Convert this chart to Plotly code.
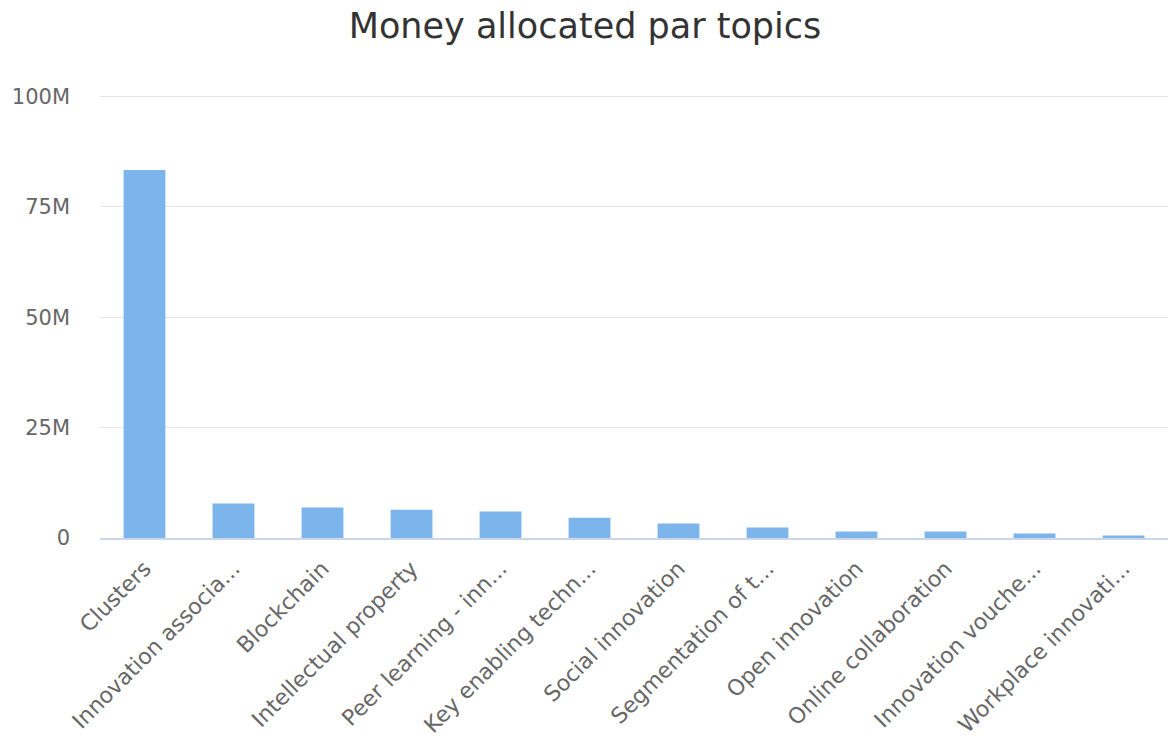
import plotly.graph_objects as go

# Funding per topic (EUR)
topics = [
    "Clusters",
    "Innovation associa...",
    "Blockchain",
    "Intellectual property",
    "Peer learning - inn...",
    "Key enabling techn...",
    "Social innovation",
    "Segmentation of t...",
    "Open innovation",
    "Online collaboration",
    "Innovation vouche...",
    "Workplace innovati...",
]
amounts = [83.3e6, 7.8e6, 6.9e6, 6.4e6, 6.0e6, 4.6e6, 3.3e6, 2.4e6, 1.45e6, 1.45e6, 1.0e6, 0.55e6]

y_ticks = [0, 25e6, 50e6, 75e6, 100e6]
y_tick_text = ["0", "25M", "50M", "75M", "100M"]

FONT = "DejaVu Sans"

fig = go.Figure(
    go.Bar(
        x=topics,
        y=amounts,
        marker=dict(color="#7cb5ec", line=dict(width=0)),
        hovertemplate="%{x}<br>%{y:,.0f}<extra></extra>",
    )
)

fig.update_layout(
    width=1170,
    height=745,
    margin=dict(l=100, r=2, t=95, b=207, autoexpand=False),
    paper_bgcolor="white",
    plot_bgcolor="white",
    bargap=0.53,
    showlegend=False,
    font=dict(family=FONT, color="#666666"),
    title=dict(
        text="Money allocated par topics",
        x=0.5,
        xanchor="center",
        y=0.965,
        yanchor="middle",
        font=dict(family=FONT, size=35, color="#333333"),
    ),
)

fig.update_xaxes(
    tickangle=-45,
    tickfont=dict(family=FONT, size=22, color="#666666"),
    showline=True,
    linecolor="#ccd6eb",
    linewidth=2,
    showgrid=False,
    ticks="",
    ticklabelstandoff=7,
    automargin=False,
)

fig.update_yaxes(
    range=[0, 100.3e6],
    tickvals=y_ticks,
    ticktext=y_tick_text,
    tickfont=dict(family=FONT, size=21, color="#666666"),
    showgrid=True,
    gridcolor="#e6e6e6",
    gridwidth=1,
    zeroline=False,
    showline=False,
    ticks="",
    ticklabelstandoff=29,
    automargin=False,
)

fig.write_html("out.html")
